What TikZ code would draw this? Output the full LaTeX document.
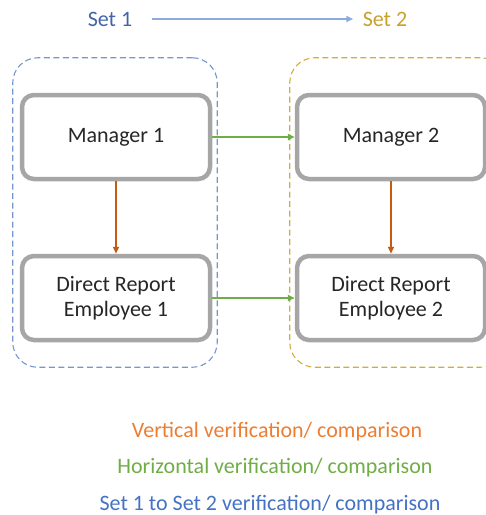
\documentclass[tikz,border=0pt]{standalone}
\usepackage{fontspec}
\setmainfont{Carlito}
\usetikzlibrary{positioning,fit,arrows.meta}

\definecolor{setblue}{HTML}{4265A8}
\definecolor{framblue}{HTML}{7596CF}
\definecolor{arrblue}{HTML}{8EA9DB}
\definecolor{setgold}{HTML}{C9A02A}
\definecolor{framgold}{HTML}{D4AC3A}
\definecolor{boxgray}{HTML}{A6A6A6}
\definecolor{vertorange}{HTML}{C55A11}
\definecolor{legorange}{HTML}{ED7D31}
\definecolor{horgreen}{HTML}{70AD47}
\definecolor{legblue}{HTML}{4472C4}

\tikzset{
    staffbox/.style={draw=boxgray, line width=4.5pt, rounded corners=12pt,
        fill=white, minimum width=188pt, minimum height=84pt, align=center,
        text=black!85, font=\fontsize{22}{25}\selectfont},
    setframe/.style={dashed, line width=1.1pt, rounded corners=25pt,
        inner sep=0pt, dash pattern=on 6pt off 3.5pt},
    vertarrow/.style={draw=vertorange, line width=2pt,
        -{Triangle[length=7pt,width=6pt]}},
    horarrow/.style={draw=horgreen, line width=2pt,
        -{Triangle[length=7pt,width=6pt]}},
    legend/.style={font=\fontsize{22}{25}\selectfont},
}

\begin{document}
\begin{tikzpicture}[x=1pt, y=-1pt]
    \useasboundingbox (0,0) rectangle (486,515);

    % sets
    \node[legend, text=setblue] (set1) at (110,19) {Set 1};
    \node[legend, text=setgold] (set2) at (385,19) {Set 2};
    \draw[draw=arrblue, line width=2pt, -{Triangle[length=7pt,width=6pt]}]
        ([xshift=16pt]set1.east) -- ([xshift=-6pt]set2.west);

    % employees
    \node[staffbox] (mgr1) at (116,137) {Manager 1};
    \node[staffbox, below=72.5pt of mgr1] (emp1) {Direct Report\\Employee 1};
    \node[staffbox, right=82.5pt of mgr1] (mgr2) {Manager 2};
    \node[staffbox, right=82.5pt of emp1] (emp2) {Direct Report\\Employee 2};

    % set frames
    \coordinate (f1a) at ([shift={(-7pt,35pt)}]mgr1.north west);
    \coordinate (f1b) at ([shift={(5pt,-25pt)}]emp1.south east);
    \coordinate (f2a) at ([shift={(-5pt,35pt)}]mgr2.north west);
    \coordinate (f2b) at ([shift={(18pt,-25pt)}]emp2.south east);
    \node[setframe, draw=framblue, fit=(f1a)(f1b)] (frame1) {};
    \node[setframe, draw=framgold, fit=(f2a)(f2b)] (frame2) {};

    % verifications
    \draw[vertarrow] (mgr1) -- (emp1);
    \draw[vertarrow] (mgr2) -- (emp2);
    \draw[horarrow] (mgr1) -- (mgr2);
    \draw[horarrow] (emp1) -- (emp2);

    % legend
    \node[legend, text=legorange] (legvert) at (277,432) {Vertical verification/ comparison};
    \node[legend, text=horgreen] (leghor) at (275,468) {Horizontal verification/ comparison};
    \node[legend, text=legblue] (legset) at (270,505) {Set 1 to Set 2 verification/ comparison};
\end{tikzpicture}
\end{document}
